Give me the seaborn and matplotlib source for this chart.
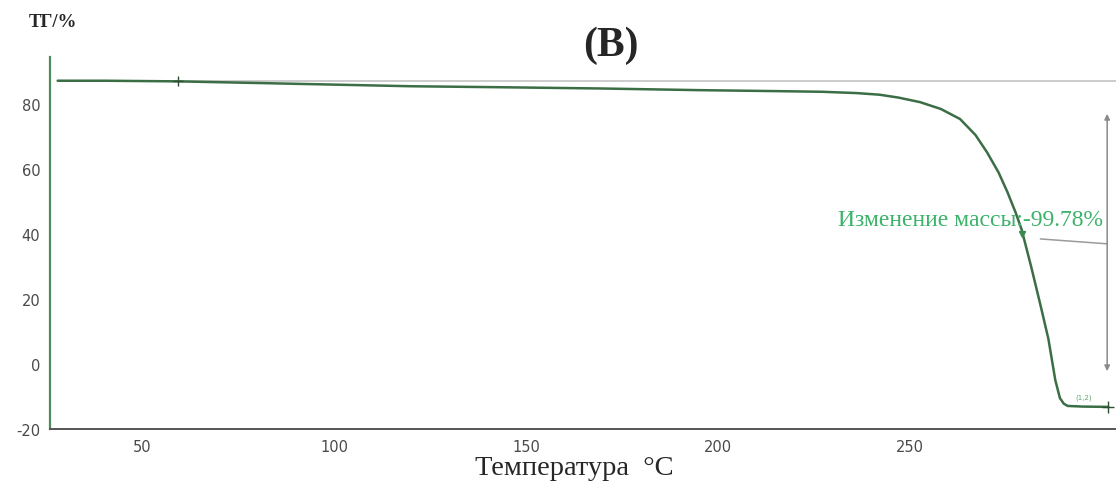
import matplotlib
matplotlib.use("Agg")
import matplotlib.pyplot as plt
import seaborn as sns
import pandas as pd

# Thermogravimetric curve: temperature (°C) vs. sample mass (%)
temperature = [28.0, 40.0, 59.4, 80.0, 100.0, 120.0, 143.0, 170.0, 195.0, 215.0,
               227.0, 236.0, 242.0, 247.0, 252.6, 258.0, 263.0, 267.0, 270.0, 273.0,
               275.3, 277.5, 279.0, 281.5, 284.0, 286.0, 287.8, 289.0, 290.0, 291.0,
               295.0, 301.6]
mass = [87.2, 87.2, 87.0, 86.5, 86.0, 85.5, 85.2, 84.8, 84.3, 84.0,
        83.8, 83.4, 82.9, 82.0, 80.6, 78.5, 75.4, 70.5, 65.2, 59.0,
        53.0, 46.5, 41.5, 30.0, 17.8, 7.7, -5.0, -10.5, -12.2, -12.9,
        -13.1, -13.2]

x_ticks = [50, 100, 150, 200, 250]
y_ticks = [-20, 0, 20, 40, 60, 80]

initial_mass = 87.0
step_top, step_bottom = 77.0, -2.2
mass_change_label = "Изменение массы:-99.78%"

df = pd.DataFrame({"T": temperature, "m": mass})

sns.set_style("white")
plt.rcParams["font.family"] = ["DejaVu Sans"]
plt.rcParams["axes.unicode_minus"] = False

fig = plt.figure(figsize=(11.16, 4.85), dpi=100)
ax = fig.add_axes([0.0448, 0.1134, 0.9552, 0.767])

curve_color = "#3b6e45"
# baseline at the starting mass
ax.plot([28.0, 303.6], [initial_mass, initial_mass], color="#c4c4c4", lw=1.2, zorder=1)

sns.lineplot(data=df, x="T", y="m", ax=ax, color=curve_color, lw=1.8, zorder=3)

# cross markers at the evaluation points
ax.plot([temperature[2]], [mass[2]], marker="+", ms=7, color="#2f4f35", mew=1.0, zorder=4)
ax.plot([temperature[-1]], [mass[-1]], marker="+", ms=8, color="#2f4f35", mew=1.0, zorder=4)
ax.plot([temperature[22]], [mass[22] - 1.5], marker="v", ms=4, color="#3a8a50", zorder=4)

# mass-change step annotation
ax.annotate("", xy=(301.3, step_top), xytext=(301.3, step_bottom),
            arrowprops=dict(arrowstyle="<|-|>", color="#8a8a8a", lw=1.1,
                            mutation_scale=8, shrinkA=0, shrinkB=0))
ax.plot([283.9, 301.3], [38.5, 37.0], color="#9a9a9a", lw=1.1)
ax.text(231.3, 44.5, mass_change_label, color="#3cb36a", fontsize=17,
        family="Liberation Serif", ha="left", va="center")
ax.text(293.0, -10.0, "(1,2)", color="#5aa870", fontsize=5, ha="left", va="center")

ax.set_xlim(26.0, 303.6)
ax.set_ylim(-20, 94.5)
ax.set_xticks(x_ticks)
ax.set_yticks(y_ticks)
ax.set_xticks(range(30, 300, 10), minor=True)
ax.set_yticks(range(-10, 95, 20), minor=True)
ax.tick_params(axis="both", which="major", labelsize=10.5, labelcolor="#4a4a4a",
               length=4, width=1, direction="out", colors="#555555")
ax.tick_params(axis="both", which="minor", length=2.5, width=1,
               direction="out", colors="#888888")
ax.tick_params(axis="x", pad=3)
ax.tick_params(axis="y", pad=3)
ax.set_xlabel("")
ax.set_ylabel("")

for side in ["top", "right"]:
    ax.spines[side].set_visible(False)
ax.spines["left"].set_color("#4e8a5a")
ax.spines["left"].set_linewidth(1.6)
ax.spines["bottom"].set_color("#555555")
ax.spines["bottom"].set_linewidth(1.4)

fig.text(0.547, 0.905, "(B)", fontsize=30, fontweight="bold",
         family="Liberation Serif", ha="center", va="center")
fig.text(0.026, 0.953, "ТГ/%", fontsize=13.5, fontweight="bold",
         family="Liberation Serif", ha="left", va="center")
fig.text(0.515, 0.034, "Температура  °C", fontsize=20.5,
         family="Liberation Serif", ha="center", va="center")

fig.savefig("out.png", dpi=100)
